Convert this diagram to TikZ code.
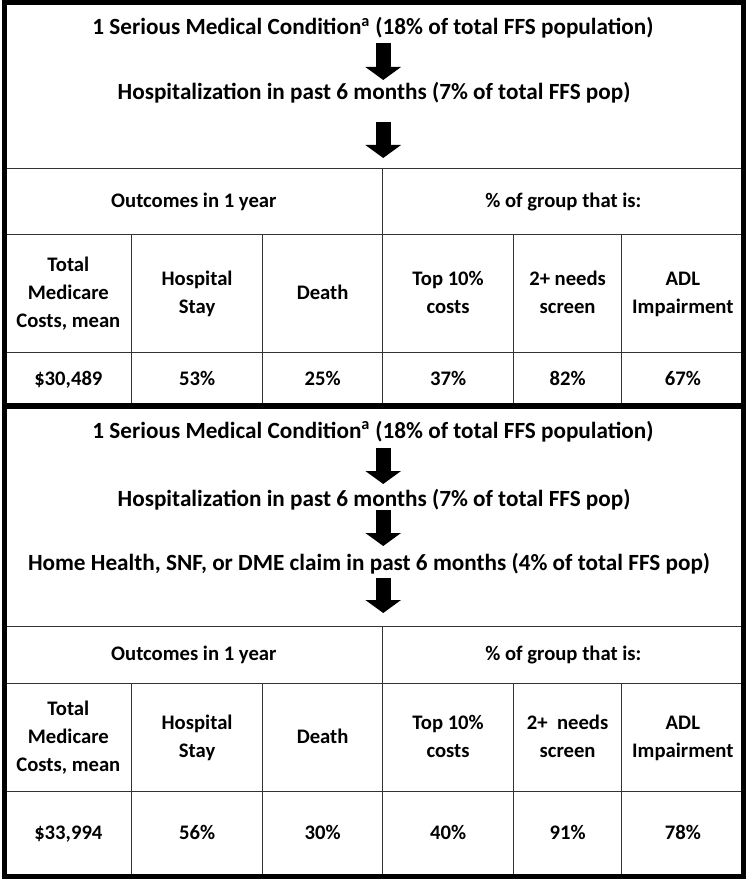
\documentclass[tikz,border=0pt]{standalone}
\usepackage{fontspec}
\setmainfont{Carlito}
\usetikzlibrary{arrows.meta}
\usetikzlibrary{positioning}
\usetikzlibrary{calc}

\begin{document}
\begin{tikzpicture}[x=0.75pt, y=-0.75pt,
  every node/.style={font=\fontsize{15.5}{21}\selectfont\bfseries, inner sep=0pt},
  flowline/.style={anchor=base, font=\fontsize{17.4}{21}\selectfont\bfseries},
  cell/.style={draw=black!80, line width=0.9pt, rectangle, anchor=north west, align=center},
  span/.style 2 args={minimum width=(#1)*0.75pt, minimum height=(#2)*0.75pt},
  bigarrow/.style={line width=11.25pt, -{Triangle[length=9.75pt, width=26.25pt]}},
  frame/.style={line width=3.75pt}]

  \useasboundingbox (0,0) rectangle (748,880);

  % Upper panel: table
  \node[cell, span={377.5}{66}] (aout) at (4.5,168) {\strut Outcomes in 1 year\strut};
  \node[cell, span={361.5}{66}] (agrp) at (382,168) {\strut\% of group that is:\strut};
  \foreach \xl/\xr/\hd/\val [count=\i] in {
      4.5/131/{Total\\Medicare\\Costs, mean}/{\$30,489},
      131/262/{Hospital\\Stay}/{53\%},
      262/382/{Death}/{25\%},
      382/513/{Top 10\%\\costs}/{37\%},
      513/621/{2+ needs\\screen}/{82\%},
      621/743.5/{ADL\\Impairment}/{67\%}} {
    \node[cell, span={\xr-\xl}{118}] (ahd\i) at (\xl,234) {\strut\hd\strut};
    \node[cell, span={\xr-\xl}{54}] (aval\i) at (\xl,352) {\strut\val\strut};
  }

  % Upper panel: flow lines
  \node[flowline] (a1) at (373,35) {1 Serious Medical Condition\textsuperscript{a} (18\% of total FFS population)};
  \node[flowline] (a2) at (374,100) {Hospitalization in past 6 months (7\% of total FFS pop)};

  \draw[bigarrow, shorten <=6pt, shorten >=15pt] (a1.base -| aout.east) -- (a2.base -| aout.east);
  \draw[bigarrow, shorten <=16.5pt, shorten >=7.5pt] (a2.base -| aout.east) -- (aout.north east);

  % Lower panel: table
  \node[cell, span={377.5}{57}] (bout) at (4.5,626) {\strut Outcomes in 1 year\strut};
  \node[cell, span={361.5}{57}] (bgrp) at (382,626) {\strut\% of group that is:\strut};
  \foreach \xl/\xr/\hd/\val [count=\i] in {
      4.5/131/{Total\\Medicare\\Costs, mean}/{\$33,994},
      131/262/{Hospital\\Stay}/{56\%},
      262/382/{Death}/{30\%},
      382/513/{Top 10\%\\costs}/{40\%},
      513/621/{2+~ needs\\screen}/{91\%},
      621/743.5/{ADL\\Impairment}/{78\%}} {
    \node[cell, span={\xr-\xl}{108}] (bhd\i) at (\xl,683) {\strut\hd\strut};
    \node[cell, span={\xr-\xl}{85.5}] (bval\i) at (\xl,791) {\strut\val\strut};
  }

  % Lower panel: flow lines
  \node[flowline] (b1) at (373,438) {1 Serious Medical Condition\textsuperscript{a} (18\% of total FFS population)};
  \node[flowline] (b2) at (374,506) {Hospitalization in past 6 months (7\% of total FFS pop)};
  \node[flowline] (b3) at (369,570) {Home Health, SNF, or DME claim in past 6 months (4\% of total FFS pop)};

  \draw[bigarrow, shorten <=7.5pt, shorten >=16.5pt] (b1.base -| bout.east) -- (b2.base -| bout.east);
  \draw[bigarrow, shorten <=3pt, shorten >=18pt] (b2.base -| bout.east) -- (b3.base -| bout.east);
  \draw[bigarrow, shorten <=6pt, shorten >=9.75pt] (b3.base -| bout.east) -- (bout.north east);

  % Outer frame and panel divider
  \draw[frame] (4.5,3) rectangle (743.5,876.5);
  \draw[line width=4.5pt] (4.5,406) -- (743.5,406);

\end{tikzpicture}
\end{document}
